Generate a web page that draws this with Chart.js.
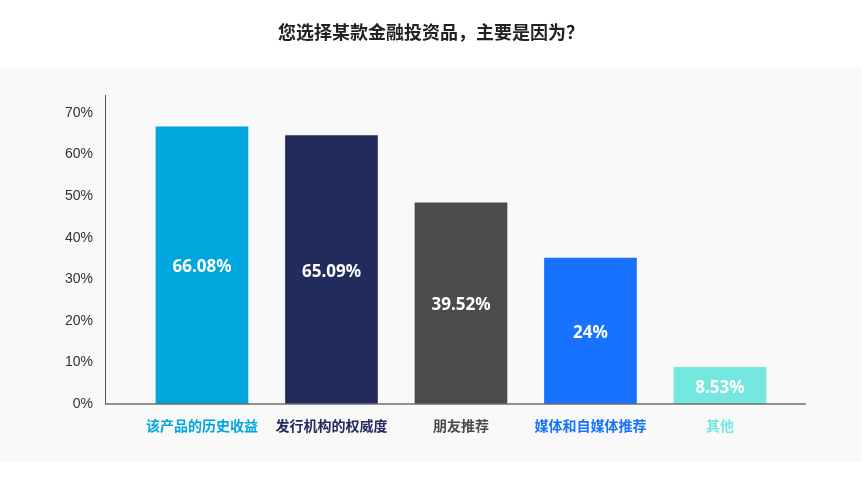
<!DOCTYPE html>
<html>
<head>
<meta charset="utf-8">
<script src="https://cdn.jsdelivr.net/npm/chart.js@4"></script>
<style>
  html, body { margin: 0; padding: 0; background: #fff; }
  #wrap { width: 862px; height: 479px; }
</style>
</head>
<body>
<div id="wrap"><canvas id="chart" width="862" height="479"></canvas></div>
<script>
const titleText = "您选择某款金融投资品，主要是因为？";
const categories = ["该产品的历史收益", "发行机构的权威度", "朋友推荐", "媒体和自媒体推荐", "其他"];
// bar heights as drawn in the picture (%)
const barValues = [66.7, 64.6, 48.4, 35.1, 8.8];
// labels printed inside the bars
const barLabels = ["66.08%", "65.09%", "39.52%", "24%", "8.53%"];
const barColors = ["#00a6de", "#232a5c", "#4b4b4b", "#1672ff", "#74e8de"];
const yTicks = [0, 10, 20, 30, 40, 50, 60, 70];

const CJK = '"Noto Sans CJK SC", "Noto Sans", sans-serif';
const X_MIN = -0.749;
const X_AXIS_END = 4.664; // where the x axis line stops
const X_MAX = 5.097;

// grey panel behind the plot
const panelBg = {
  id: "panelBg",
  beforeDraw(chart) {
    const ctx = chart.ctx;
    ctx.save();
    ctx.fillStyle = "#f9f9f9";
    ctx.fillRect(0, 67, chart.width, 395);
    ctx.restore();
  },
};

// value labels inside bars + x axis line on top
const barText = {
  id: "barText",
  afterDatasetsDraw(chart) {
    const ctx = chart.ctx;
    const meta = chart.getDatasetMeta(0);
    ctx.save();
    ctx.fillStyle = "#ffffff";
    ctx.font = 'bold 17px "Noto Sans", "Open Sans", sans-serif';
    ctx.textAlign = "center";
    ctx.textBaseline = "middle";
    meta.data.forEach((bar, i) => {
      const mid = (bar.y + bar.base) / 2;
      ctx.fillText(barLabels[i], bar.x, mid + 2);
    });
    const a = chart.chartArea;
    const xEnd = chart.scales.x.getPixelForValue(X_AXIS_END);
    ctx.strokeStyle = "rgba(110,110,110,0.75)";
    ctx.lineWidth = 2;
    ctx.beginPath();
    ctx.moveTo(a.left, a.bottom);
    ctx.lineTo(xEnd, a.bottom);
    ctx.stroke();
    ctx.restore();
  },
};

new Chart(document.getElementById("chart"), {
  type: "bar",
  data: {
    datasets: [
      {
        data: barValues.map((v, i) => ({ x: i, y: v })),
        backgroundColor: barColors,
        barThickness: 92,
        borderWidth: 0,
      },
    ],
  },
  options: {
    responsive: false,
    animation: false,
    layout: { padding: 0 },
    plugins: {
      legend: { display: false },
      tooltip: { enabled: false },
      title: {
        display: true,
        text: titleText,
        color: "#222222",
        font: { family: CJK, size: 18, weight: "bold" },
        padding: { top: 21, bottom: 53 },
      },
    },
    scales: {
      x: {
        type: "linear",
        offset: false,
        min: X_MIN,
        max: X_MAX,
        grid: { display: false, drawTicks: false },
        border: { display: false },
        afterBuildTicks(scale) {
          scale.ticks = categories.map((_, i) => ({ value: i }));
        },
        afterFit(scale) {
          scale.height = 75;
        },
        ticks: {
          padding: 13,
          autoSkip: false,
          maxRotation: 0,
          color: (c) => barColors[c.index],
          font: { family: CJK, size: 14, weight: "bold" },
          callback: (v) => categories[v] ?? "",
        },
      },
      y: {
        min: 0,
        max: 74.2,
        grid: { display: false, drawTicks: false },
        border: { display: true, color: "#555555", width: 1 },
        afterBuildTicks(scale) {
          scale.ticks = yTicks.map((v) => ({ value: v }));
        },
        afterFit(scale) {
          scale.width = 105;
        },
        ticks: {
          padding: 12,
          color: "#333333",
          font: { family: '"Liberation Sans", Arial, sans-serif', size: 14 },
          callback: (v) => v + "%",
        },
      },
    },
  },
  plugins: [panelBg, barText],
});
</script>
</body>
</html>
